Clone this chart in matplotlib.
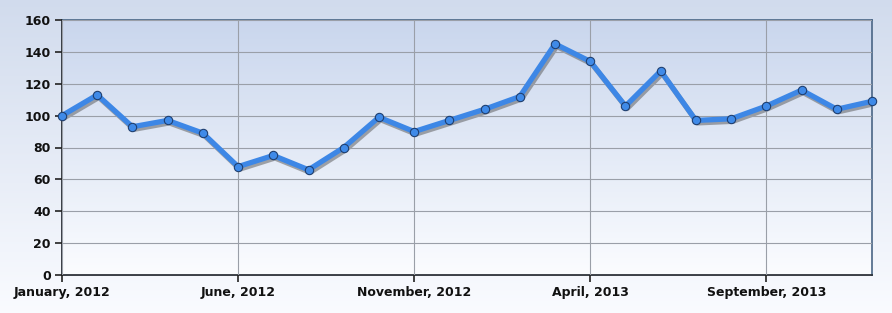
import numpy as np
import matplotlib
matplotlib.use("Agg")
from matplotlib import pyplot as plt
from matplotlib import transforms

months = ["Jan 2012", "Feb 2012", "Mar 2012", "Apr 2012", "May 2012", "Jun 2012",
          "Jul 2012", "Aug 2012", "Sep 2012", "Oct 2012", "Nov 2012", "Dec 2012",
          "Jan 2013", "Feb 2013", "Mar 2013", "Apr 2013", "May 2013", "Jun 2013",
          "Jul 2013", "Aug 2013", "Sep 2013", "Oct 2013", "Nov 2013", "Dec 2013"]
values = [100, 113, 93, 97, 89, 68, 75, 66, 80, 99, 90, 97,
          104, 112, 145, 134, 106, 128, 97, 98, 106, 116, 104, 109]
tick_months = [0, 5, 10, 15, 20]
tick_labels = ["January, 2012", "June, 2012", "November, 2012", "April, 2013", "September, 2013"]
y_ticks = [0, 20, 40, 60, 80, 100, 120, 140, 160]

plt.rcParams['font.family'] = ['DejaVu Sans']

fig = plt.figure(figsize=(8.92, 3.13), dpi=100)

# figure background gradient
bg = fig.add_axes([0, 0, 1, 1], zorder=-10)
grad = np.linspace(0, 1, 256).reshape(-1, 1)
top_c = np.array([0.82, 0.86, 0.93])
bot_c = np.array([0.98, 0.985, 1.0])
img = top_c + (bot_c - top_c) * grad[:, :, None]
bg.imshow(img, aspect='auto', extent=[0, 1, 0, 1])
bg.axis('off')

ax = fig.add_axes([62 / 892, 38 / 313, 810 / 892, 255 / 313])
x = np.arange(len(values))

# plot area gradient
top_p = np.array([0.79, 0.84, 0.93])
bot_p = np.array([0.985, 0.99, 1.0])
img2 = top_p + (bot_p - top_p) * grad[:, :, None]
ax.imshow(img2, aspect='auto', extent=[0, len(values) - 1, 0, 160], zorder=0)

ax.set_xlim(0, len(values) - 1)
ax.set_ylim(0, 160)

ax.set_yticks(y_ticks)
ax.set_xticks(tick_months)
ax.set_xticklabels(tick_labels)
ax.grid(True, color='#9a9fa8', linewidth=0.8, zorder=1)
ax.set_axisbelow(False)

# shadow
shadow = transforms.offset_copy(ax.transData, fig=fig, x=1.2, y=-1.8, units='points')
ax.plot(x, values, color='#555555', alpha=0.5, linewidth=3.8, transform=shadow,
        solid_joinstyle='round', zorder=2)
ax.plot(x, values, color='#3d87e6', linewidth=3.8, solid_joinstyle='round', zorder=3,
        marker='o', markersize=6, markerfacecolor='#3f8ae8', markeredgecolor='#1f3f70',
        markeredgewidth=0.8, clip_on=False)

for side in ['left', 'bottom']:
    ax.spines[side].set_color('#2a2f36')
    ax.spines[side].set_linewidth(1.3)
for side in ['top', 'right']:
    ax.spines[side].set_color('#4a6585')
    ax.spines[side].set_linewidth(1.2)

ax.tick_params(axis='both', direction='out', length=5, width=1.2, color='#222222',
               labelsize=9, pad=3)
for lbl in ax.get_xticklabels() + ax.get_yticklabels():
    lbl.set_fontweight('bold')
    lbl.set_color('#111111')

fig.savefig("out.png", dpi=100)
